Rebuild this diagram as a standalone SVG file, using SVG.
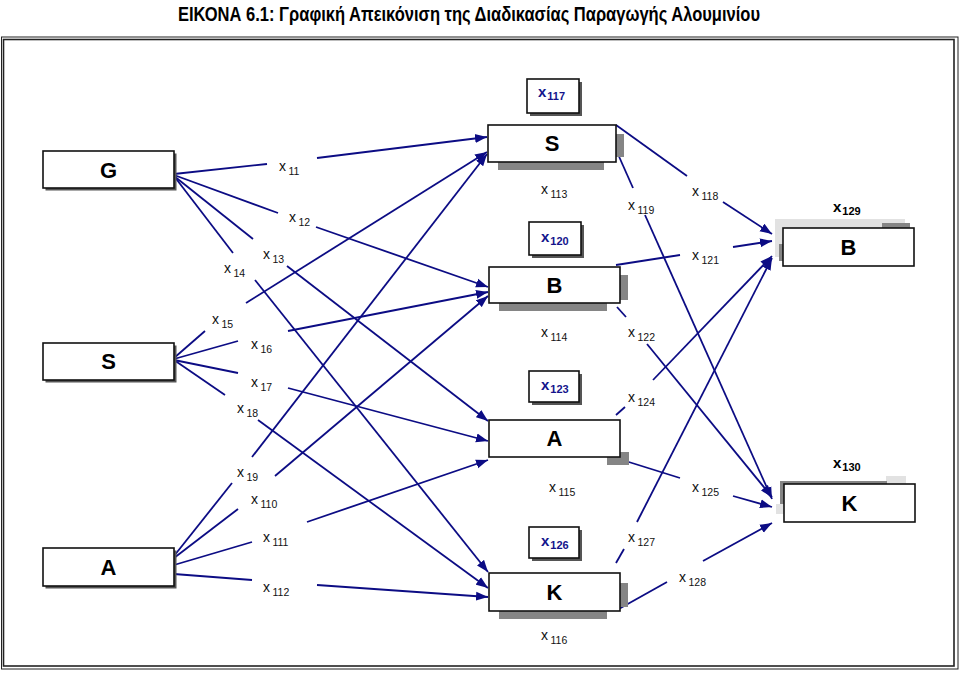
<svg xmlns="http://www.w3.org/2000/svg" width="960" height="673" viewBox="0 0 960 673">
<defs>
<marker id="ah" markerUnits="userSpaceOnUse" markerWidth="13" markerHeight="10" refX="12" refY="5" orient="auto">
<path d="M0,0.5 L12,5 L0,9.5 z" fill="#0c0c84"/>
</marker>
<style>
.title{font-family:"Liberation Sans",Arial,sans-serif;font-weight:bold;font-size:21px;fill:#000}
.box{fill:#fff;stroke:#111;stroke-width:1.6}
.sh{fill:#555}
.gr{fill:#858585}
.lg{fill:#e2e2e2}
.nt{font-family:"Liberation Sans",Arial,sans-serif;font-weight:bold;font-size:22px;fill:#000;text-anchor:middle}
.lbl{font-family:"Liberation Sans",Arial,sans-serif;font-size:14px;fill:#111}
.lbl .s{font-size:10.5px}
.vx{font-family:"Liberation Sans",Arial,sans-serif;font-weight:bold;font-size:15px;fill:#14148c}
.vx .s{font-size:11px}
.bx{font-family:"Liberation Sans",Arial,sans-serif;font-weight:bold;font-size:15px;fill:#000}
.bx .s{font-size:11px}
.c line{stroke:#0c0c84;stroke-width:1.8;fill:none}
.c .a{marker-end:url(#ah)}
.frame{fill:none;stroke:#222}
</style>
</defs>
<rect width="960" height="673" fill="#fff"/>
<text class="title" x="178" y="21" textLength="582" lengthAdjust="spacingAndGlyphs">ΕΙΚΟΝΑ 6.1: Γραφική Απεικόνιση της Διαδικασίας Παραγωγής Αλουμινίου</text>
<rect class="frame" x="1.5" y="37" width="956.5" height="632" stroke-width="1"/>
<rect class="frame" x="3.5" y="39.5" width="950.5" height="626.5" stroke-width="1.6"/>

<g id="connectors" class="c">
<line x1="174" y1="174" x2="267" y2="164"/>
<line x1="174" y1="175" x2="278" y2="213"/>
<line x1="174" y1="176" x2="253" y2="239"/>
<line x1="174" y1="176" x2="233" y2="253"/>
<line x1="174" y1="358" x2="205" y2="331"/>
<line x1="174" y1="359" x2="238" y2="341"/>
<line x1="174" y1="360" x2="238" y2="373"/>
<line x1="174" y1="360" x2="225" y2="395"/>
<line x1="174" y1="556" x2="232" y2="483"/>
<line x1="174" y1="558" x2="238" y2="509"/>
<line x1="174" y1="565" x2="252" y2="542"/>
<line x1="174" y1="574" x2="252" y2="580"/>
<line class="a" x1="317" y1="158" x2="487" y2="137"/>
<line class="a" x1="316" y1="227" x2="488" y2="287"/>
<line class="a" x1="287" y1="266" x2="488" y2="421"/>
<line class="a" x1="255" y1="280" x2="488" y2="572"/>
<line class="a" x1="246" y1="303" x2="487" y2="152"/>
<line class="a" x1="288" y1="331" x2="488" y2="292"/>
<line class="a" x1="288" y1="388" x2="488" y2="441"/>
<line class="a" x1="258" y1="420" x2="488" y2="588"/>
<line class="a" x1="252" y1="457" x2="487" y2="154"/>
<line class="a" x1="275" y1="476" x2="488" y2="296"/>
<line class="a" x1="307" y1="522" x2="488" y2="460"/>
<line class="a" x1="317" y1="585" x2="488" y2="597"/>
<line x1="616" y1="125" x2="687" y2="176"/>
<line x1="617" y1="152" x2="633" y2="188"/>
<line x1="616" y1="265" x2="680" y2="255"/>
<line x1="617" y1="307" x2="626" y2="317"/>
<line x1="616" y1="415" x2="625" y2="407"/>
<line x1="616" y1="458" x2="680" y2="478"/>
<line x1="616" y1="563" x2="624" y2="549"/>
<line x1="617" y1="610" x2="667" y2="582"/>
<line class="a" x1="723" y1="202" x2="772" y2="234"/>
<line class="a" x1="733" y1="247" x2="772" y2="241"/>
<line class="a" x1="653" y1="380" x2="772" y2="256"/>
<line class="a" x1="637" y1="522" x2="772" y2="258"/>
<line class="a" x1="645" y1="215" x2="772" y2="499"/>
<line class="a" x1="647" y1="344" x2="772" y2="497"/>
<line class="a" x1="733" y1="496" x2="772" y2="507"/>
<line class="a" x1="703" y1="561" x2="772" y2="523"/>
</g>

<g id="node-G"><rect class="sh" x="45.5" y="153.5" width="131" height="37"/><rect class="box" x="43" y="151" width="131" height="37"/><text class="nt" x="108.5" y="178">G</text></g>
<g id="node-S-left"><rect class="sh" x="45.5" y="345.5" width="131" height="37"/><rect class="box" x="43" y="343" width="131" height="37"/><text class="nt" x="108.5" y="369">S</text></g>
<g id="node-A-left"><rect class="sh" x="45.5" y="550.5" width="131" height="38"/><rect class="box" x="43" y="548" width="131" height="38"/><text class="nt" x="108.5" y="575">A</text></g>

<g id="node-x117"><rect class="sh" x="530" y="82" width="52" height="34" fill="#777"/><rect class="box" x="527" y="79" width="52" height="34"/><text class="vx" x="538" y="97">x<tspan class="s" dx="1" dy="3">117</tspan></text></g>
<g id="node-S-center"><rect class="gr" x="498" y="160" width="106" height="10"/><rect class="gr" x="614" y="134" width="10" height="23"/><rect class="box" x="488" y="125" width="128" height="37"/><text class="nt" x="552" y="151">S</text></g>
<g id="node-x120"><rect class="sh" x="532" y="225" width="52" height="33" fill="#777"/><rect class="box" x="529" y="222" width="52" height="33"/><text class="vx" x="541" y="242">x<tspan class="s" dx="1" dy="3">120</tspan></text></g>
<g id="node-B-center"><rect class="gr" x="499" y="301" width="108" height="10"/><rect class="gr" x="618" y="275" width="10" height="25"/><rect class="box" x="489" y="267" width="131" height="36"/><text class="nt" x="554.5" y="293">B</text></g>
<g id="node-x123"><rect class="sh" x="532" y="374" width="50" height="31" fill="#777"/><rect class="box" x="529" y="371" width="50" height="31"/><text class="vx" x="541" y="390">x<tspan class="s" dx="1" dy="3">123</tspan></text></g>
<g id="node-A-center"><rect class="gr" x="607" y="452" width="22" height="13"/><rect class="box" x="489" y="420" width="131" height="37"/><text class="nt" x="554.5" y="446">A</text></g>
<g id="node-x126"><rect class="sh" x="532" y="530" width="50" height="31" fill="#777"/><rect class="box" x="529" y="527" width="50" height="31"/><text class="vx" x="541" y="546">x<tspan class="s" dx="1" dy="3">126</tspan></text></g>
<g id="node-K-center"><rect class="gr" x="499" y="609" width="108" height="10"/><rect class="gr" x="618" y="583" width="10" height="24"/><rect class="box" x="489" y="573" width="131" height="38"/><text class="nt" x="554.5" y="600">K</text></g>

<g id="node-B-right"><rect class="lg" x="775" y="219" width="130" height="9"/><rect class="lg" x="775" y="219" width="8" height="38"/><rect class="gr" x="882" y="223" width="28" height="5"/><rect class="gr" x="779" y="244" width="4" height="17"/><rect class="box" x="783" y="228" width="131" height="38"/><text class="nt" x="848.5" y="255">B</text><text class="bx" x="833" y="212">x<tspan class="s" dx="1" dy="3">129</tspan></text></g>
<g id="node-K-right"><rect class="lg" x="886" y="476" width="20" height="8"/><rect class="lg" x="776" y="504" width="8" height="10"/><rect class="gr" x="780" y="481" width="107" height="3"/><rect class="gr" x="780" y="481" width="4" height="23"/><rect class="box" x="784" y="484" width="131" height="38"/><text class="nt" x="849.5" y="511">K</text><text class="bx" x="833" y="468">x<tspan class="s" dx="1" dy="3">130</tspan></text></g>

<g id="labels">
<text class="lbl" x="279" y="171">x<tspan class="s" dx="2.5" dy="3.5">11</tspan></text>
<text class="lbl" x="289" y="222">x<tspan class="s" dx="2.5" dy="3.5">12</tspan></text>
<text class="lbl" x="263" y="259">x<tspan class="s" dx="2.5" dy="3.5">13</tspan></text>
<text class="lbl" x="224" y="273">x<tspan class="s" dx="2.5" dy="3.5">14</tspan></text>
<text class="lbl" x="212" y="324">x<tspan class="s" dx="2.5" dy="3.5">15</tspan></text>
<text class="lbl" x="251" y="349">x<tspan class="s" dx="2.5" dy="3.5">16</tspan></text>
<text class="lbl" x="251" y="387">x<tspan class="s" dx="2.5" dy="3.5">17</tspan></text>
<text class="lbl" x="237" y="413">x<tspan class="s" dx="2.5" dy="3.5">18</tspan></text>
<text class="lbl" x="237" y="477">x<tspan class="s" dx="2.5" dy="3.5">19</tspan></text>
<text class="lbl" x="251" y="504">x<tspan class="s" dx="2.5" dy="3.5">110</tspan></text>
<text class="lbl" x="263" y="542">x<tspan class="s" dx="2.5" dy="3.5">111</tspan></text>
<text class="lbl" x="263" y="592">x<tspan class="s" dx="2.5" dy="3.5">112</tspan></text>
<text class="lbl" x="541" y="194">x<tspan class="s" dx="2.5" dy="3.5">113</tspan></text>
<text class="lbl" x="541" y="337">x<tspan class="s" dx="2.5" dy="3.5">114</tspan></text>
<text class="lbl" x="549" y="492">x<tspan class="s" dx="2.5" dy="3.5">115</tspan></text>
<text class="lbl" x="541" y="640">x<tspan class="s" dx="2.5" dy="3.5">116</tspan></text>
<text class="lbl" x="692" y="196">x<tspan class="s" dx="2.5" dy="3.5">118</tspan></text>
<text class="lbl" x="628" y="210">x<tspan class="s" dx="2.5" dy="3.5">119</tspan></text>
<text class="lbl" x="692" y="260">x<tspan class="s" dx="2.5" dy="3.5">121</tspan></text>
<text class="lbl" x="628" y="337">x<tspan class="s" dx="2.5" dy="3.5">122</tspan></text>
<text class="lbl" x="628" y="402">x<tspan class="s" dx="2.5" dy="3.5">124</tspan></text>
<text class="lbl" x="692" y="492">x<tspan class="s" dx="2.5" dy="3.5">125</tspan></text>
<text class="lbl" x="628" y="542">x<tspan class="s" dx="2.5" dy="3.5">127</tspan></text>
<text class="lbl" x="679" y="582">x<tspan class="s" dx="2.5" dy="3.5">128</tspan></text>
</g>
</svg>
